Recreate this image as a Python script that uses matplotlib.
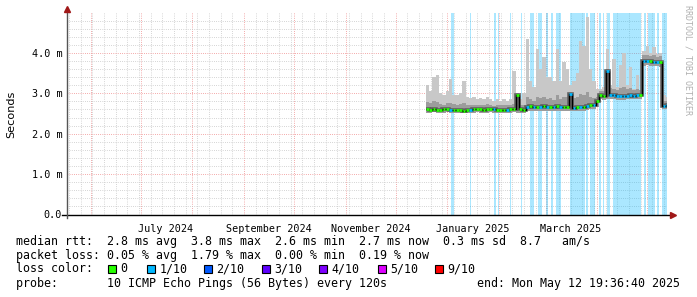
import matplotlib
matplotlib.use("Agg")
import matplotlib.pyplot as plt
import matplotlib.dates as mdates
from matplotlib.patches import Rectangle
from datetime import datetime, timedelta

W, H = 697, 297
t_start = datetime(2024, 5, 17, 19, 36, 40)
t_end = datetime(2025, 5, 12, 19, 36, 40)

# data: 2-day bins from 2024-12-19, values in ms
bin_start = datetime(2024, 12, 19)
median = [2.60, 2.59, 2.60, 2.58, 2.59, 2.60, 2.61, 2.59, 2.58, 2.59,
          2.58, 2.57, 2.58, 2.59, 2.60, 2.61, 2.60, 2.59, 2.60, 2.61,
          2.60, 2.59, 2.58, 2.58, 2.59, 2.60, 2.61,
          2.95, 2.60, 2.59,
          2.66, 2.68, 2.65, 2.67, 2.66, 2.68, 2.67, 2.65, 2.66, 2.68, 2.67, 2.66, 2.65,
          2.98,
          2.64, 2.66, 2.66, 2.67, 2.68, 2.70, 2.72,
          2.80,
          2.95, 2.93,
          3.56,
          2.97, 2.95, 2.94, 2.93, 2.93, 2.94, 2.95, 2.94, 2.95, 2.97,
          3.80, 3.80, 3.79, 3.78, 3.78, 3.77,
          2.69, 2.70]
smoke_max = [3.20, 3.05, 3.40, 3.45, 3.00, 2.95, 3.05, 3.35, 2.95, 2.95,
             3.00, 3.30, 2.90, 2.88, 2.90, 2.85, 2.88, 2.85, 2.90, 2.85,
             2.80, 2.85, 2.80, 2.85, 2.80, 2.85, 3.55,
             3.00, 2.85, 3.00,
             4.35, 3.30, 3.15, 4.10, 3.60, 3.90, 3.40, 3.40, 3.30, 4.10, 3.30, 3.77, 3.60,
             3.20,
             3.30, 3.50, 4.30, 4.17, 4.90, 3.60, 3.30,
             3.10,
             3.10, 3.15,
             4.10,
             3.20, 3.85, 3.15, 3.70, 4.00, 3.20, 3.65, 3.10, 3.45, 3.05,
             4.05, 4.18, 4.00, 4.15, 3.98, 4.00,
             2.95, 2.90]
smoke_mid = [2.78, 2.75, 2.80, 2.78, 2.74, 2.72, 2.75, 2.76, 2.73, 2.72,
             2.74, 2.76, 2.72, 2.70, 2.71, 2.70, 2.72, 2.71, 2.73, 2.70,
             2.69, 2.72, 2.70, 2.71, 2.70, 2.72, 2.74,
             2.96, 2.70, 2.72,
             2.90, 2.85, 2.82, 2.92, 2.88, 2.90, 2.85, 2.88, 2.84, 2.95, 2.86, 2.92, 2.90,
             3.00,
             2.88, 2.92, 2.98, 2.95, 3.02, 2.92, 2.88,
             2.90,
             3.05, 3.05,
             3.60,
             3.12, 3.10, 3.08, 3.12, 3.15, 3.10, 3.12, 3.08, 3.10, 3.08,
             3.95, 3.95, 3.92, 3.94, 3.90, 3.92,
             2.80, 2.82]
smoke_min = [2.52, 2.52, 2.53, 2.51, 2.52, 2.52, 2.53, 2.52, 2.51, 2.52,
             2.51, 2.50, 2.51, 2.52, 2.52, 2.53, 2.52, 2.51, 2.52, 2.53,
             2.52, 2.51, 2.50, 2.51, 2.52, 2.52, 2.53,
             2.52, 2.52, 2.52,
             2.56, 2.57, 2.55, 2.56, 2.56, 2.57, 2.56, 2.55, 2.55, 2.57, 2.56, 2.55, 2.55,
             2.56,
             2.55, 2.56, 2.56, 2.57, 2.58, 2.60, 2.62,
             2.66,
             2.85, 2.84,
             2.86,
             2.86, 2.85, 2.84, 2.84, 2.84, 2.85, 2.86, 2.85, 2.86, 2.87,
             3.68, 3.69, 3.68, 3.67, 3.67, 3.66,
             2.60, 2.61]
median_loss = [0, 0, 0, 0, 0, 0, 0, 1, 0, 0, 0, 0, 0, 1, 0, 0, 0, 0, 0, 0,
               1, 0, 0, 0, 1, 0, 0, 0, 0, 0, 1, 0, 1, 0, 1, 0, 1, 0, 1, 0,
               1, 0, 0, 1, 1, 0, 1, 0, 1, 0, 1, 0, 0, 0, 1, 1, 1, 1, 1, 1,
               1, 1, 1, 1, 0, 1, 1, 0, 1, 1, 0, 1, 1]

loss_start = ["2025-01-03 00:00", "2025-01-14 18:00", "2025-01-29 00:00", "2025-01-31 12:00",
              "2025-02-07 12:00", "2025-02-14 00:00", "2025-02-19 12:00", "2025-02-24 09:00",
              "2025-03-01 00:00", "2025-03-04 00:00", "2025-03-07 12:00", "2025-03-15 09:00",
              "2025-03-25 12:00", "2025-03-27 09:00", "2025-04-02 06:00", "2025-04-04 12:00",
              "2025-04-07 00:00", "2025-04-10 12:00", "2025-04-29 06:00", "2025-05-01 12:00",
              "2025-05-07 00:00", "2025-05-10 00:00"]
loss_days = [1.8, 0.6, 1.2, 0.6, 0.6, 0.6, 2.4, 2.4, 1.2, 1.2, 3.0, 9.0,
             1.2, 3.0, 1.2, 0.6, 1.8, 16.8, 1.2, 4.2, 1.2, 2.8]

loss_labels = ["0", "1/10", "2/10", "3/10", "4/10", "5/10", "9/10"]
loss_colors = ["#26ff00", "#00b8ff", "#0059ff", "#5e00ff", "#7e00ff", "#dd00ff", "#ff0000"]

y_ticks = [0, 1, 2, 3, 4]
y_labels = ["0.0", "1.0 m", "2.0 m", "3.0 m", "4.0 m"]
x_labels = ["July 2024", "September 2024", "November 2024", "January 2025", "March 2025"]

legend_lines = [
    "median rtt:  2.8 ms avg  3.8 ms max  2.6 ms min  2.7 ms now  0.3 ms sd  8.7   am/s",
    "packet loss: 0.05 % avg  1.79 % max  0.00 % min  0.19 % now",
    "loss color:",
    "probe:       10 ICMP Echo Pings (56 Bytes) every 120s",
]
end_text = "end: Mon May 12 19:36:40 2025"

MONO = "DejaVu Sans Mono"

fig = plt.figure(figsize=(W / 100, H / 100), dpi=100)
fig.patch.set_facecolor("white")
ax = fig.add_axes([67 / W, (H - 214.5) / H, 600 / W, 202 / H])
ax.set_facecolor("white")

x0, x1 = mdates.date2num(t_start), mdates.date2num(t_end)
ax.set_xlim(x0, x1)
ax.set_ylim(0, 5.0)

# grid (dotted, rrdtool style)
dot = (0, (0.75, 1.5))
minor_c = "#c8c8c8"
major_c = "#f09090"
wk = datetime(2024, 5, 19)
while wk < t_end:
    if wk.day != 1:
        ax.axvline(mdates.date2num(wk), color=minor_c, lw=0.7, ls=dot, zorder=1)
    wk += timedelta(days=7)
for m in range(6, 18):
    d = datetime(2024 + (m - 1) // 12, (m - 1) % 12 + 1, 1)
    ax.axvline(mdates.date2num(d), color=major_c, lw=0.7, ls=dot, zorder=1)
for k in range(1, 25):
    v = k * 0.2
    ax.axhline(v, color=major_c if k % 5 == 0 else minor_c, lw=0.7, ls=dot, zorder=1)

# loss bars
for s, dd in zip(loss_start, loss_days):
    a = mdates.date2num(datetime.strptime(s, "%Y-%m-%d %H:%M"))
    ax.axvspan(a, min(a + dd, x1), color="#00b8ff", alpha=0.33, lw=0, zorder=2)

# smoke + median
edges = [mdates.date2num(min(bin_start + timedelta(days=2 * i), t_end)) for i in range(len(median) + 1)]
ax.stairs(smoke_max, edges, baseline=smoke_min, fill=True, color="#c8c8c8", zorder=3)
ax.stairs(smoke_mid, edges, baseline=smoke_min, fill=True, color="#9c9c9c", zorder=3)
ax.stairs(median, edges, baseline=None, color="#606060", lw=2.6, zorder=4)
ax.stairs(median, edges, baseline=None, color="black", lw=1.0, zorder=5)
for i, v in enumerate(median):
    a, b = edges[i], edges[i + 1]
    pad = (b - a) * 0.06
    ax.hlines(v, a + pad, b - pad, color=loss_colors[median_loss[i]], lw=2.0, zorder=6)

# axes
for sp in ax.spines.values():
    sp.set_visible(False)
ax.plot([-0.008, 1.005], [0, 0], transform=ax.transAxes, color="black", lw=1, clip_on=False, zorder=7)
ax.plot([0, 0], [-0.015, 1.01], transform=ax.transAxes, color="#555555", lw=1, clip_on=False, zorder=7)
ax.plot([1.01], [0], transform=ax.transAxes, marker=">", color="#a01818", ms=4, clip_on=False, zorder=8)
ax.plot([0], [1.015], transform=ax.transAxes, marker="^", color="#a01818", ms=4, clip_on=False, zorder=8)

ax.set_yticks(y_ticks)
ax.set_yticklabels(y_labels, fontfamily=MONO, fontsize=7.3)
ax.tick_params(axis="y", length=0, pad=3.5)
ax.set_xticks([])
for j, lab in enumerate(x_labels):
    mth = 7 + 2 * j
    mid = datetime(2024 + (mth - 1) // 12, (mth - 1) % 12 + 1, 16)
    ax.text(mdates.date2num(mid), -0.045, lab, transform=ax.get_xaxis_transform(),
            ha="center", va="top", fontfamily=MONO, fontsize=7.3)

fig.text(11 / W, 1 - 114 / H, "Seconds", rotation=90, ha="center", va="center",
         fontfamily="DejaVu Sans", fontsize=8.1)
fig.text(688 / W, 1 - 5 / H, "RRDTOOL / TOBI OETIKER", rotation=270, ha="center", va="top",
         fontfamily=MONO, fontsize=6, color="#b0b0b0")

# legend
rows_y = [241, 255, 269, 283]
for txt, yy in zip(legend_lines, rows_y):
    fig.text(16 / W, 1 - yy / H, txt, ha="left", va="center", fontfamily=MONO, fontsize=8.4)
fig.text(680 / W, 1 - rows_y[3] / H, end_text, ha="right", va="center", fontfamily=MONO, fontsize=8.4)

box_x = [108, 147, 204, 262, 319, 378, 435]
for bx, lab, col in zip(box_x, loss_labels, loss_colors):
    fig.patches.append(Rectangle((bx / W, 1 - (rows_y[2] + 4) / H), 8 / W, 8 / H,
                                 transform=fig.transFigure, facecolor=col, edgecolor="black", lw=0.8))
    fig.text((bx + 12.5) / W, 1 - rows_y[2] / H, lab, ha="left", va="center", fontfamily=MONO, fontsize=8.4)

fig.savefig("out.png", dpi=100)
